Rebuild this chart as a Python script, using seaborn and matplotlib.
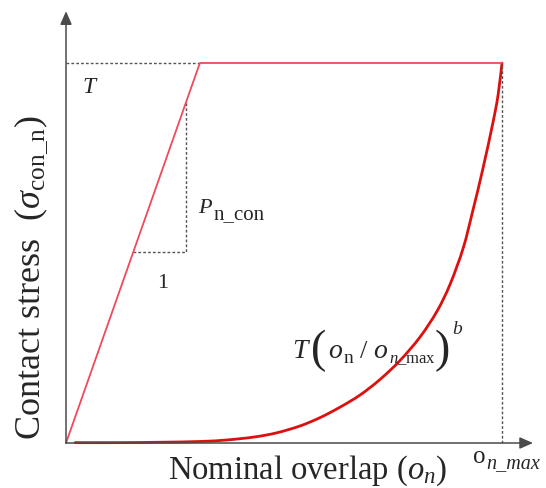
import numpy as np
import pandas as pd
import matplotlib
matplotlib.use("Agg")
import matplotlib.pyplot as plt
from matplotlib.path import Path
from matplotlib.patches import PathPatch
import seaborn as sns

# Bilinear contact law (normalised units: overlap / o_n_max, stress / T)
linear_overlap = [0.0, 0.307, 1.0]
linear_stress = [0.0, 1.0, 1.0]

# Power-law contact law T (o_n / o_n_max)^b
power_overlap = [0.021, 0.124, 0.216, 0.307, 0.369, 0.433, 0.484, 0.537, 0.583,
                 0.628, 0.674, 0.720, 0.766, 0.812, 0.851, 0.881, 0.911, 0.933,
                 0.956, 0.979, 0.991, 1.0]
power_stress = [0.001, 0.001, 0.002, 0.004, 0.008, 0.016, 0.027, 0.045, 0.067,
                0.094, 0.126, 0.167, 0.217, 0.279, 0.347, 0.418, 0.513, 0.611,
                0.721, 0.842, 0.916, 1.0]

# Slope triangle on the linear branch
slope_x = [0.154, 0.275, 0.275]
slope_y = [0.503, 0.503, 0.896]

sns.set_style("white")
plt.rcParams["font.family"] = ["Liberation Serif", "DejaVu Serif"]
plt.rcParams["mathtext.fontset"] = "custom"
plt.rcParams["mathtext.rm"] = "Liberation Serif"
plt.rcParams["mathtext.it"] = "Liberation Serif:italic"
plt.rcParams["mathtext.bf"] = "Liberation Serif:bold"

W, H = 546, 489
fig = plt.figure(figsize=(W / 100, H / 100), dpi=100)
ax = fig.add_axes([0, 0, 1, 1])
ax.set_xlim(-0.1514, 1.1009)
ax.set_ylim(-0.1184, 1.1684)
ax.axis("off")


def label(x, y, s, **kw):
    """Place a text piece at a pixel position measured from the top-left."""
    fig.text(x / W, 1 - y / H, s, va="baseline", ha="left", **kw)


def smooth_curve(xs, ys):
    """Catmull-Rom spline through the given points as a cubic Bezier path."""
    p = np.column_stack([xs, ys])
    verts = [p[0]]
    codes = [Path.MOVETO]
    n = len(p)
    for i in range(n - 1):
        p0 = p[i - 1] if i > 0 else p[i]
        p1, p2 = p[i], p[i + 1]
        p3 = p[i + 2] if i + 2 < n else p[i + 1]
        verts += [p1 + (p2 - p0) / 6, p2 - (p3 - p1) / 6, p2]
        codes += [Path.CURVE4] * 3
    return Path(verts, codes)


lin_df = pd.DataFrame({"overlap": linear_overlap, "stress": linear_stress})

axis_col = "#4a4a4a"
guide_col = "#555555"

# Coordinate axes with arrow heads
arrow = dict(arrowstyle="-|>,head_length=0.5,head_width=0.22", color=axis_col,
             lw=1.1, mutation_scale=16, shrinkA=0, shrinkB=0)
ax.annotate("", xy=(0, 1.1363), xytext=(0, 0), arrowprops=arrow)
ax.annotate("", xy=(1.0711, 0), xytext=(0, 0), arrowprops=arrow)

# Guide lines
dots = (0, (2, 1.5))
ax.plot([0, linear_overlap[1]], [1, 1], color=guide_col, lw=1.0, ls=dots)
ax.plot([1, 1], [0, 1], color=guide_col, lw=1.0, ls=dots)
ax.plot(slope_x, slope_y, color=guide_col, lw=1.0, ls=dots)

sns.lineplot(data=lin_df, x="overlap", y="stress", ax=ax, color="#ee4a5a",
             lw=1.3, estimator=None, sort=False)
ax.add_patch(PathPatch(smooth_curve(power_overlap, power_stress), fill=False,
                       edgecolor="#dd1010", lw=2.0, capstyle="round"))
ax.set_xlabel("")
ax.set_ylabel("")

# Annotations
label(82, 93, "T", fontsize=17, style="italic")
label(198, 213, "P", fontsize=16, style="italic")
label(214, 219, "n_con", fontsize=15)
label(157, 288, "1", fontsize=16)

# T (o_n / o_n_max)^b
label(292, 358, "T", fontsize=20, style="italic")
label(311, 362, "(", fontsize=33)
label(328, 358, "o", fontsize=20, style="italic")
label(344, 363, "n", fontsize=14)
label(360, 358, "/", fontsize=19)
label(373, 358, "o", fontsize=20, style="italic")
label(389, 363, r"$n\_\mathrm{max}$", fontsize=12)
label(435, 362, ")", fontsize=33)
label(452, 334, "b", fontsize=14, style="italic")

# o_n_max at the end of the overlap axis
label(473, 463, "o", fontsize=18)
label(486, 468, "n_max", fontsize=14.5, style="italic")

ax.text(0.554, -0.092, r"Nominal overlap ($o_n$)", fontsize=23.5,
        ha="center", va="baseline")
ax.text(-0.080, 0.437, r"Contact stress  ($\sigma_{\mathrm{con\_n}}$)",
        fontsize=26, rotation=90, ha="center", va="center")

fig.savefig("out.png", dpi=100)
